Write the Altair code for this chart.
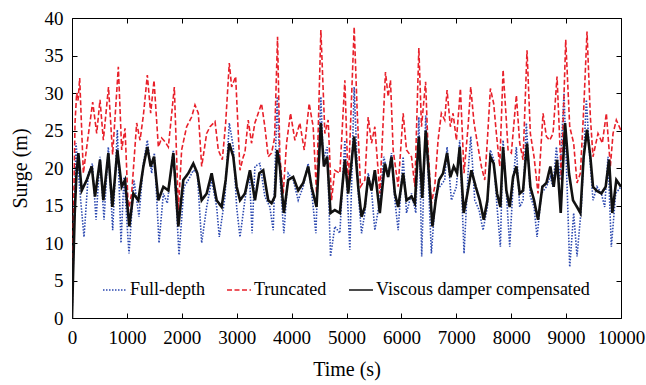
import altair as alt
import pandas as pd

# ---------------- data ----------------
full_t = [0, 20, 45, 73, 110, 158, 219, 298, 371, 438, 510, 583, 662, 741, 826, 893, 947, 1038, 1129, 1220,
          1300, 1372, 1451, 1500, 1585, 1664, 1736, 1846, 1949, 2040, 2119, 2210, 2283, 2362, 2453, 2544, 2635,
          2683, 2787, 2865, 2938, 2999, 3060, 3149, 3230, 3280, 3331, 3422, 3513, 3604, 3665, 3738, 3799, 3859,
          3938, 4029, 4120, 4211, 4302, 4381, 4442, 4533, 4576, 4648, 4709, 4788, 4879, 4970, 5061, 5140, 5213,
          5274, 5334, 5395, 5456, 5516, 5607, 5680, 5759, 5820, 5881, 5941, 6032, 6093, 6184, 6263, 6318, 6370,
          6443, 6546, 6625, 6698, 6789, 6832, 6911, 7002, 7062, 7141, 7214, 7263, 7336, 7415, 7487, 7566, 7621,
          7681, 7742, 7803, 7852, 7912, 7973, 8046, 8094, 8155, 8216, 8276, 8349, 8416, 8471, 8550, 8641, 8713,
          8762, 8823, 8883, 8962, 9066, 9138, 9199, 9278, 9369, 9430, 9490, 9563, 9642, 9703, 9763, 9824, 9903,
          10000]
full_v = [0, 6, 15, 23.3, 20, 15.7, 10.8, 19.3, 20.6, 13.1, 21.5, 13.1, 22.8, 11.7, 25.1, 10, 18.8, 8.6, 18.4, 13.5,
          20.6, 23.7, 19.3, 22, 10, 16.6, 15.3, 22.4, 8.4, 17.5, 18.4, 19.7, 19.3, 10, 14.8, 18.4, 14.8,
          10.8, 16.2, 26, 22.8, 14.8, 10.8, 15.7, 19.5, 11.3, 20.2, 20.6, 16.2, 14.8, 11.7, 29.5, 17.5, 11.3,
          19.3, 18.4, 15.7, 17.5, 20.6, 15.7, 11.3, 29.5, 21.1, 22.8, 8.2, 12.2, 11.3, 23.7, 9.1, 30.8, 16.6,
          11.3, 14, 19.3, 17, 11.7, 15.7, 21.5, 18.8, 22, 15.7, 11.7, 21.5, 14, 16.6, 14, 26.8, 8.2,
          27, 8.6, 16.6, 17.5, 18.4, 22.8, 15.7, 17.5, 23.7, 8.6, 19.3, 24.2, 15.7, 14.4, 11.7, 14.8, 22.4,
          21.1, 14.8, 9.5, 23.7, 16.6, 9.5, 19.3, 22.8, 14.8, 15.7, 26, 16.2, 14.8, 10.8, 16.6, 17.5, 18.8,
          17.5, 22.8, 18.4, 30, 6.8, 14, 8.2, 14.8, 29.1, 21.5, 15.7, 17.5, 16.6, 14.8, 21.5, 9.5, 16.6,
          17.5]

trunc_t = [0, 25, 55, 85, 110, 140, 207, 290, 377, 450, 510, 571, 665, 740, 844, 905, 966, 1026, 1087, 1178,
           1239, 1300, 1372, 1433, 1494, 1573, 1633, 1694, 1755, 1864, 1937, 1997, 2088, 2179, 2240, 2301, 2362,
           2453, 2514, 2605, 2665, 2738, 2799, 2865, 2908, 2981, 3060, 3120, 3149, 3210, 3270, 3331, 3392, 3452,
           3513, 3574, 3635, 3690, 3744, 3786, 3847, 3908, 3980, 4060, 4150, 4230, 4320, 4393, 4454, 4533, 4606,
           4666, 4727, 4788, 4879, 4970, 5031, 5140, 5194, 5255, 5334, 5395, 5456, 5516, 5607, 5710, 5759, 5801,
           5850, 5941, 6032, 6093, 6184, 6245, 6318, 6366, 6441, 6486, 6546, 6607, 6668, 6728, 6789, 6832, 6892,
           6941, 7002, 7075, 7141, 7214, 7263, 7323, 7396, 7457, 7518, 7566, 7621, 7681, 7730, 7791, 7852, 7900,
           7943, 8003, 8094, 8155, 8216, 8288, 8349, 8416, 8489, 8580, 8641, 8701, 8762, 8835, 8914, 8993, 9066,
           9138, 9199, 9260, 9320, 9381, 9442, 9490, 9581, 9660, 9733, 9806, 9855, 9915, 10000]
trunc_v = [0, 12, 26, 30, 29, 32, 19.3, 24, 28.8, 24.6, 29.1, 23.7, 30.8, 21.8, 33.5, 22.4, 25.3, 14.3, 16.6, 26,
           23.7, 27, 32.4, 27.3, 31.7, 22.8, 24, 23.5, 22.8, 30.8, 14.4, 22.4, 25.5, 26.8, 28.4, 27.3, 20.2,
           24.6, 25.5, 26.2, 22.4, 21.1, 26, 34, 30.8, 32.2, 19.7, 21.5, 22, 26.4, 23.3, 26, 27.3, 28.6,
           25.5, 21.5, 22, 24, 37.5, 21.5, 16.6, 23.3, 27.3, 23.7, 26, 22.4, 28.6, 25.5, 16.6, 38.4, 24.6,
           26.4, 15.7, 19.7, 19.3, 31.7, 17.5, 38.8, 27.7, 17.5, 18.4, 26.8, 23.3, 25.5, 16.6, 32.8, 29.5, 31.7,
           22.4, 17.5, 27.3, 22.4, 21.5, 17.5, 36, 25.5, 31.5, 22.4, 15.3, 17.5, 23.7, 27.3, 26.4, 30.4, 25.5,
           27.3, 23.7, 30.6, 19.3, 25.5, 30.8, 26, 22.8, 20.2, 18.4, 23.7, 30.6, 28.6, 24.6, 20.2, 33.1, 27.7,
           22.4, 22, 29.7, 23.3, 21.1, 35.7, 24.6, 21.5, 16.6, 27.3, 24.2, 23.7, 24.6, 32.2, 18.4, 37.1, 25.5,
           23.3, 18, 19.3, 27.7, 38.2, 26.8, 21.5, 24.6, 23.3, 27.3, 20.2, 24.6, 26.4, 25]

visc_t = [0, 20, 50, 80, 116, 177, 268, 359, 419, 510, 571, 662, 735, 826, 905, 966, 1044, 1117, 1208, 1300,
          1372, 1433, 1494, 1573, 1664, 1755, 1846, 1937, 2028, 2119, 2210, 2283, 2362, 2453, 2544, 2635, 2726,
          2799, 2865, 2938, 2999, 3060, 3150, 3242, 3333, 3412, 3483, 3574, 3635, 3695, 3738, 3786, 3859, 3938,
          4029, 4120, 4211, 4302, 4363, 4454, 4533, 4588, 4648, 4709, 4788, 4879, 4970, 5031, 5140, 5213, 5274,
          5334, 5395, 5456, 5516, 5607, 5698, 5759, 5820, 5881, 5941, 6032, 6093, 6184, 6245, 6318, 6380, 6443,
          6504, 6565, 6625, 6686, 6759, 6832, 6892, 6953, 7014, 7062, 7135, 7202, 7275, 7354, 7427, 7500, 7566,
          7621, 7681, 7742, 7803, 7852, 7912, 7973, 8034, 8094, 8155, 8216, 8288, 8349, 8416, 8489, 8568, 8641,
          8713, 8774, 8835, 8902, 8981, 9053, 9126, 9199, 9260, 9320, 9381, 9442, 9490, 9551, 9642, 9721, 9782,
          9842, 9915, 10000]
visc_v = [0, 6, 14, 19, 22, 17, 18.4, 20.2, 16.2, 21.1, 15.7, 22, 14.8, 22.4, 17.5, 18.4, 12.2, 16.6, 15.7, 20.2,
          22.8, 20.2, 21.5, 15.7, 17.5, 17, 22, 12.2, 18.4, 19.3, 20.6, 19.3, 15.7, 16.6, 19.3, 15.7, 14.8,
          18.4, 23.3, 21.5, 17.5, 15.7, 16.6, 19.7, 15.7, 19.3, 19.7, 15.7, 15.3, 16.2, 22.4, 20.2, 14, 18.4,
          18.8, 17, 18, 20.2, 17.5, 14.8, 26, 20.2, 21.5, 14, 14.4, 14, 21.1, 16.6, 24.2, 17.5, 13.5,
          14.8, 18.8, 17, 19.7, 14, 20.6, 18.8, 21.5, 16.6, 14.8, 19.3, 15.7, 16.2, 15.3, 24.2, 16, 25,
          18.8, 12.2, 15.7, 18.4, 19.3, 22, 18.8, 20.2, 19.3, 22.8, 14, 16.6, 19.7, 17.5, 15.7, 13.1, 15.7,
          21.5, 20.6, 16.6, 14.8, 22.8, 17, 14.8, 18.8, 20.2, 16.6, 17, 23.3, 17.5, 15.7, 13.1, 17.5, 18,
          20.2, 17.5, 21.1, 14, 26, 19.3, 15.7, 14.8, 14, 21.5, 25.1, 21.5, 17.5, 17, 16.6, 17.5, 21.1,
          14, 18.4, 17.5]

series_names = ["Full-depth", "Truncated", "Viscous damper compensated"]
series_colors = ["#2b48b0", "#e8202a", "#111111"]
series_dash = [[1.5, 1.5], [5, 2.5], [1, 0]]
x_ticks = [0, 1000, 2000, 3000, 4000, 5000, 6000, 7000, 8000, 9000, 10000]
y_ticks = [0, 5, 10, 15, 20, 25, 30, 35, 40]

df_full = pd.DataFrame({"t": full_t, "v": full_v, "series": series_names[0]})
df_trunc = pd.DataFrame({"t": trunc_t, "v": trunc_v, "series": series_names[1]})
df_visc = pd.DataFrame({"t": visc_t, "v": visc_v, "series": series_names[2]})

W, H = 549, 300
FONT = "Liberation Serif"

xscale = alt.Scale(domain=[0, 10000], nice=False, zero=False)
yscale = alt.Scale(domain=[0, 40], nice=False)
cscale = alt.Scale(domain=series_names, range=series_colors)
dscale = alt.Scale(domain=series_names, range=series_dash)

legend = alt.Legend(
    title=None, orient="none", direction="horizontal", legendX=30, legendY=259,
    symbolType="stroke", symbolSize=576, symbolStrokeWidth=1.4, labelFont=FONT, labelFontSize=18,
    labelColor="black", labelOffset=2, columnPadding=19, padding=0, labelLimit=400,
)

# axis set 1: labels (bottom / left)
ax_x1 = alt.Axis(orient="bottom", values=x_ticks, format="d", ticks=False, domain=False, grid=False,
                 labelFont=FONT, labelFontSize=19, labelColor="black", labelPadding=10, title="Time (s)",
                 titleFont=FONT, titleFontSize=20, titleFontWeight="normal", titleColor="black",
                 titlePadding=12, labelFlush=False, labelOverlap=False)
ax_y1 = alt.Axis(orient="left", values=y_ticks, format="d", ticks=False, domain=False, grid=False,
                 labelFont=FONT, labelFontSize=19, labelColor="black", labelPadding=9, title="Surge (m)",
                 titleFont=FONT, titleFontSize=20, titleFontWeight="normal", titleColor="black",
                 titlePadding=14, labelFlush=False)
# axis set 2: inward ticks on bottom / left edges
ax_x2 = alt.Axis(orient="top", offset=-H, values=x_ticks, ticks=True, tickSize=5, tickWidth=1,
                 tickColor="black", labels=False, domain=False, grid=False, title=None)
ax_y2 = alt.Axis(orient="right", offset=-W, values=y_ticks, ticks=True, tickSize=5, tickWidth=1,
                 tickColor="black", labels=False, domain=False, grid=False, title=None)
# axis set 3: inward ticks on top / right edges
ax_x3 = alt.Axis(orient="bottom", offset=-H, values=x_ticks, ticks=True, tickSize=5, tickWidth=1,
                 tickColor="black", labels=False, domain=False, grid=False, title=None)
ax_y3 = alt.Axis(orient="left", offset=-W, values=y_ticks, ticks=True, tickSize=5, tickWidth=1,
                 tickColor="black", labels=False, domain=False, grid=False, title=None)


def line(df, ax_x, ax_y, width):
    return alt.Chart(df).mark_line(strokeWidth=width, clip=True).encode(
        x=alt.X("t:Q", scale=xscale, axis=ax_x),
        y=alt.Y("v:Q", scale=yscale, axis=ax_y),
        color=alt.Color("series:N", scale=cscale, legend=legend),
        strokeDash=alt.StrokeDash("series:N", scale=dscale, legend=legend),
        order="t:Q",
    )


chart = alt.layer(
    line(df_full, ax_x1, ax_y1, 1.6),
    line(df_trunc, ax_x2, ax_y2, 1.6),
    line(df_visc, ax_x3, ax_y3, 2.6),
).resolve_axis(x="independent", y="independent").properties(
    width=W, height=H,
    autosize=alt.AutoSizeParams(type="none"),
    padding={"left": 72, "top": 18, "right": 25, "bottom": 67},
    background="white",
).configure_view(stroke="black", strokeWidth=1)

chart.save("out.html", embed_options={"renderer": "svg", "actions": False})
